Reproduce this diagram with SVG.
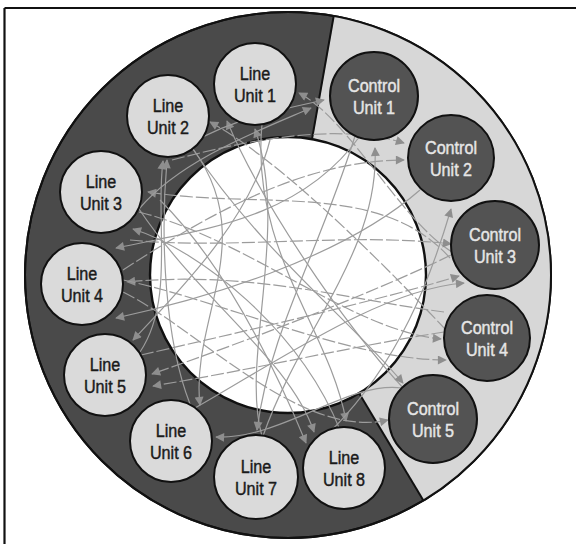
<svg xmlns="http://www.w3.org/2000/svg" width="576" height="544" viewBox="0 0 576 544">
  <defs>
    <marker id="arrow" viewBox="0 0 10 10" refX="9" refY="5" markerWidth="11" markerHeight="9" markerUnits="userSpaceOnUse" orient="auto">
      <path d="M0,0 L10,5 L0,10 z" fill="#8e8e8e"/>
    </marker>
    <style>
      .frame { stroke: #111; stroke-width: 2.2; fill: none; }
      .ring { fill: #4a4a4a; stroke: #111; stroke-width: 2; }
      .sector { fill: #d7d7d7; }
      .hole { fill: #ffffff; stroke: #111; stroke-width: 2.4; }
      .divider { stroke: #111; stroke-width: 2; }
      .link { fill: none; stroke: #9c9c9c; stroke-width: 1.2; marker-end: url(#arrow); }
      .dash { stroke-dasharray: 13 3; }
      .line-unit circle { fill: #dadada; stroke: #111; stroke-width: 2; }
      .ctrl-unit circle { fill: #535353; stroke: #111; stroke-width: 2; }
      text { font-family: "Liberation Sans", Arial, sans-serif; font-size: 19px; text-anchor: middle; stroke-width: 0.45; }
      .line-unit text { fill: #1a1a1a; stroke: #1a1a1a; }
      .ctrl-unit text { fill: #e6e6e6; stroke: #e6e6e6; }
    </style>
  </defs>

  <!-- page frame (top and left edges) -->
  <line class="frame" x1="4.5" y1="8" x2="576" y2="8"/>
  <line class="frame" x1="4.5" y1="8" x2="4.5" y2="544"/>

  <!-- ring: dark band, light control sector, white core -->
  <g id="ring">
    <circle class="ring" cx="288" cy="275" r="263"/>
    <path class="sector" d="M333.7 16 A263 263 0 0 1 423.4 500.4 L359.1 393.3 A138 138 0 0 0 312 139.1 Z"/>
    <circle class="hole" cx="288" cy="275" r="138"/>
    <line class="divider" x1="333.7" y1="16" x2="312" y2="139.1"/>
    <line class="divider" x1="423.4" y1="500.4" x2="359.1" y2="393.3"/>
    <circle cx="288" cy="275" r="263" fill="none" stroke="#111" stroke-width="2"/>
  </g>

  <!-- connectors -->
  <g id="connectors">
    <!-- into Line Unit 1 -->
    <path class="link" d="M262 436 C240 360 290 230 255 129"/>
    <path class="link" d="M405 390 C340 320 260 200 227 121"/>
    <path class="link dash" d="M452 252 C400 220 350 120 299 93"/>
    <!-- into Line Unit 2 -->
    <path class="link" d="M190 404 C165 340 160 240 167 160"/>
    <path class="link" d="M140 352 C175 300 155 220 163 161"/>
    <path class="link dash" d="M446 330 C380 260 280 160 210 122"/>
    <!-- into Line Unit 3 -->
    <path class="link dash" d="M450 258 C380 180 260 210 148 192"/>
    <path class="link" d="M340 430 C300 330 200 250 133 229"/>
    <!-- into Line Unit 4 -->
    <path class="link" d="M360 136 C300 220 200 230 116 248"/>
    <path class="link dash" d="M444 312 C350 300 250 270 127 282"/>
    <path class="link" d="M420 190 C340 260 200 300 116 318"/>
    <!-- into Line Unit 5 -->
    <path class="link" d="M270 140 C250 220 180 290 133 340"/>
    <path class="link dash" d="M451 255 C380 290 250 340 152 374"/>
    <path class="link dash" d="M444 332 C360 345 250 370 153 386"/>
    <!-- into Line Unit 6 -->
    <path class="link" d="M193 149 C260 240 190 320 200 405"/>
    <path class="link" d="M402 388 C350 380 280 440 216 437"/>
    <!-- into Line Unit 7 -->
    <path class="link" d="M355 136 C320 250 270 330 257 430"/>
    <!-- into Line Unit 8 -->
    <path class="link" d="M262 124 C250 250 330 330 346 421"/>
    <path class="link" d="M160 200 C230 270 280 380 306 443"/>
    <path class="link" d="M139 209 C200 300 290 360 314 432"/>
    <!-- into Control Unit 5 -->
    <path class="link dash" d="M123 292 C200 330 300 440 388 420"/>
    <path class="link" d="M193 149 C260 250 350 320 403 383"/>
    <!-- into Control Unit 4 -->
    <path class="link dash" d="M139 212 C250 240 350 330 441 339"/>
    <path class="link dash" d="M123 280 C220 300 350 360 446 360"/>
    <!-- into Control Unit 3 -->
    <path class="link" d="M195 408 C280 360 380 290 464 283"/>
    <path class="link dash" d="M141 355 C250 330 380 300 459 276"/>
    <path class="link dash" d="M130 240 C230 250 350 232 451 244"/>
    <!-- into Control Unit 2 -->
    <path class="link" d="M333 429 C400 360 430 280 451 209"/>
    <path class="link dash" d="M172 160 C230 145 330 120 404 143"/>
    <path class="link dash" d="M123 270 C200 220 300 160 404 160"/>
    <!-- into Control Unit 1 -->
    <path class="link" d="M263 436 C300 330 380 250 375 148"/>
    <path class="link" d="M139 209 C180 160 260 130 311 108"/>
    <path class="link" d="M170 157 C220 120 280 110 324 100"/>
  </g>

  <!-- line units -->
  <g id="line-unit-1" class="line-unit">
    <circle cx="255" cy="84" r="41"/>
    <text transform="translate(255 80) scale(0.85 1)">Line</text>
    <text transform="translate(255 102) scale(0.85 1)">Unit 1</text>
  </g>
  <g id="line-unit-2" class="line-unit">
    <circle cx="168" cy="116" r="41"/>
    <text transform="translate(168 112) scale(0.85 1)">Line</text>
    <text transform="translate(168 134) scale(0.85 1)">Unit 2</text>
  </g>
  <g id="line-unit-3" class="line-unit">
    <circle cx="101" cy="192" r="41"/>
    <text transform="translate(101 188) scale(0.85 1)">Line</text>
    <text transform="translate(101 210) scale(0.85 1)">Unit 3</text>
  </g>
  <g id="line-unit-4" class="line-unit">
    <circle cx="82" cy="284" r="41"/>
    <text transform="translate(82 280) scale(0.85 1)">Line</text>
    <text transform="translate(82 302) scale(0.85 1)">Unit 4</text>
  </g>
  <g id="line-unit-5" class="line-unit">
    <circle cx="105" cy="375" r="41"/>
    <text transform="translate(105 371) scale(0.85 1)">Line</text>
    <text transform="translate(105 393) scale(0.85 1)">Unit 5</text>
  </g>
  <g id="line-unit-6" class="line-unit">
    <circle cx="171" cy="441" r="41"/>
    <text transform="translate(171 437) scale(0.85 1)">Line</text>
    <text transform="translate(171 459) scale(0.85 1)">Unit 6</text>
  </g>
  <g id="line-unit-7" class="line-unit">
    <circle cx="256" cy="477" r="42"/>
    <text transform="translate(256 473) scale(0.85 1)">Line</text>
    <text transform="translate(256 495) scale(0.85 1)">Unit 7</text>
  </g>
  <g id="line-unit-8" class="line-unit">
    <circle cx="344" cy="468" r="41"/>
    <text transform="translate(344 464) scale(0.85 1)">Line</text>
    <text transform="translate(344 486) scale(0.85 1)">Unit 8</text>
  </g>

  <!-- control units -->
  <g id="control-unit-1" class="ctrl-unit">
    <circle cx="374" cy="96" r="44"/>
    <text transform="translate(374 92) scale(0.85 1)">Control</text>
    <text transform="translate(374 114) scale(0.85 1)">Unit 1</text>
  </g>
  <g id="control-unit-2" class="ctrl-unit">
    <circle cx="451" cy="158" r="43"/>
    <text transform="translate(451 154) scale(0.85 1)">Control</text>
    <text transform="translate(451 176) scale(0.85 1)">Unit 2</text>
  </g>
  <g id="control-unit-3" class="ctrl-unit">
    <circle cx="495" cy="245" r="44"/>
    <text transform="translate(495 241) scale(0.85 1)">Control</text>
    <text transform="translate(495 263) scale(0.85 1)">Unit 3</text>
  </g>
  <g id="control-unit-4" class="ctrl-unit">
    <circle cx="487" cy="338" r="43"/>
    <text transform="translate(487 334) scale(0.85 1)">Control</text>
    <text transform="translate(487 356) scale(0.85 1)">Unit 4</text>
  </g>
  <g id="control-unit-5" class="ctrl-unit">
    <circle cx="433" cy="419" r="44"/>
    <text transform="translate(433 415) scale(0.85 1)">Control</text>
    <text transform="translate(433 437) scale(0.85 1)">Unit 5</text>
  </g>
</svg>
